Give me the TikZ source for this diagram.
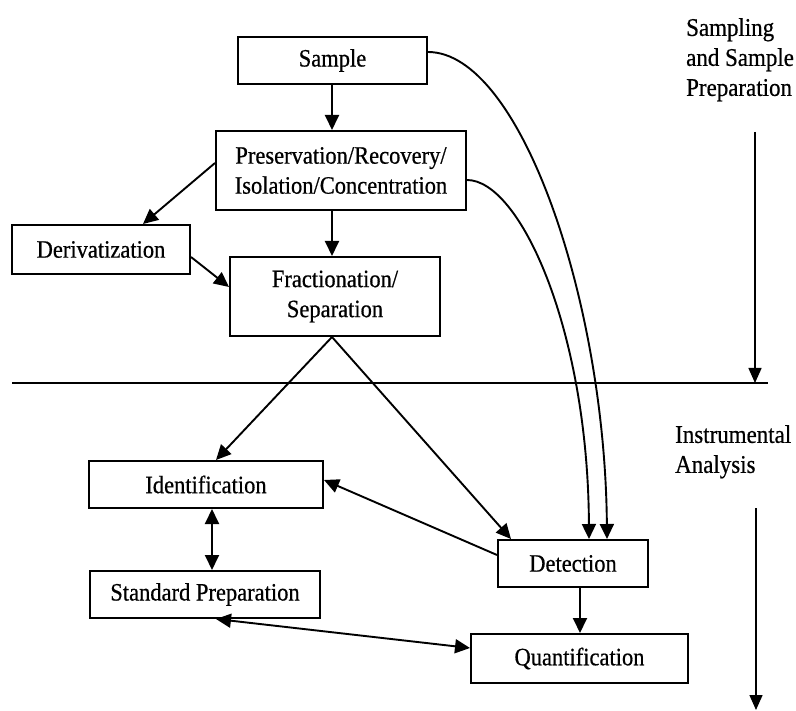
\documentclass[tikz,border=0pt]{standalone}
\usepackage{fontspec}
\setmainfont{Liberation Serif}[FakeStretch=0.9,FakeBold=0.6]
\usetikzlibrary{arrows.meta,calc}
\begin{document}
\begin{tikzpicture}[x=1pt,y=-1pt,
  box/.style={draw,line width=2pt,inner sep=0pt,align=center,
    font=\fontsize{25}{30}\selectfont},
  arr/.style={line width=1.9pt,-{Triangle[length=15pt,width=14pt]}},
  dbl/.style={line width=1.9pt,{Triangle[length=15pt,width=14pt]}-{Triangle[length=15pt,width=14pt]}},
  thin/.style={line width=1.5pt},
  side/.style={align=left,anchor=north west,inner sep=0pt,font=\fontsize{25.5}{30}\selectfont}]
\useasboundingbox (0,0) rectangle (796,711);
% boxes
\node[box,minimum width=189pt,minimum height=47pt] (sample) at (332.5,60.5) {Sample};
\node[box,minimum width=250pt,minimum height=79pt] (pres) at (341,170.5) {Preservation/Recovery/\\Isolation/Concentration};
\node[box,minimum width=178pt,minimum height=49pt] (deriv) at (101,249.5) {Derivatization};
\node[box,minimum width=210pt,minimum height=79pt] (frac) at (335,296.5) {Fractionation/\\Separation};
\node[box,minimum width=234pt,minimum height=47pt] (ident) at (206,484.5) {Identification};
\node[box,minimum width=230pt,minimum height=47pt] (std) at (205,594.5) {Standard Preparation};
\node[box,minimum width=150pt,minimum height=47pt] (det) at (573,563.5) {Detection};
\node[box,minimum width=217pt,minimum height=49pt] (quant) at (579.5,658.5) {Quantification};
% side labels
\node[side] (lab1) at (686,18) {Sampling\\and Sample\\Preparation};
\node[side] (lab2) at (675,425) {Instrumental\\Analysis};
% divider and phase arrows
\coordinate (divL) at (12,383);
\coordinate (divR) at (768,383);
\draw[thin] (divL) -- (divR);
\coordinate (a1s) at (755,132);
\draw[thin,-{Triangle[length=15pt,width=13pt]}] (a1s) -- (a1s |- divR);
\coordinate (a2s) at (756,508);
\coordinate (a2e) at (756,710);
\draw[thin,-{Triangle[length=15pt,width=13pt]}] (a2s) -- (a2e);
% connectors
\draw[arr] (sample.south -| 332,0) -- (pres.north -| 332,0);
\draw[arr] (pres.south -| 332,0) -- (frac.north -| 332,0);
\draw[arr] (pres.west |- 0,163) -- (deriv.north -| 143,0);
\draw[arr] (deriv.east |- 0,257) -- (frac.west |- 0,287);
\coordinate (fb) at (frac.south -| 332,0);
\draw[arr] (fb) -- (ident.north -| 216,0);
\draw[arr] (fb) -- (det.north -| 511,0);
\draw[arr] (det.west |- 0,555) -- (ident.east |- 0,480);
\draw[dbl] (ident.south -| 212,0) -- (std.north -| 212,0);
\draw[dbl] (std.south -| 216,0) -- (quant.west |- 0,648);
\draw[arr] (det.south -| 580,0) -- (quant.north -| 580,0);
\draw[arr] (sample.east |- 0,52) .. controls (520,52) and (605,300) .. (det.north -| 607,0);
\draw[arr] (pres.east |- 0,180) .. controls (520,180) and (588,330) .. (det.north -| 589,0);
\end{tikzpicture}
\end{document}
